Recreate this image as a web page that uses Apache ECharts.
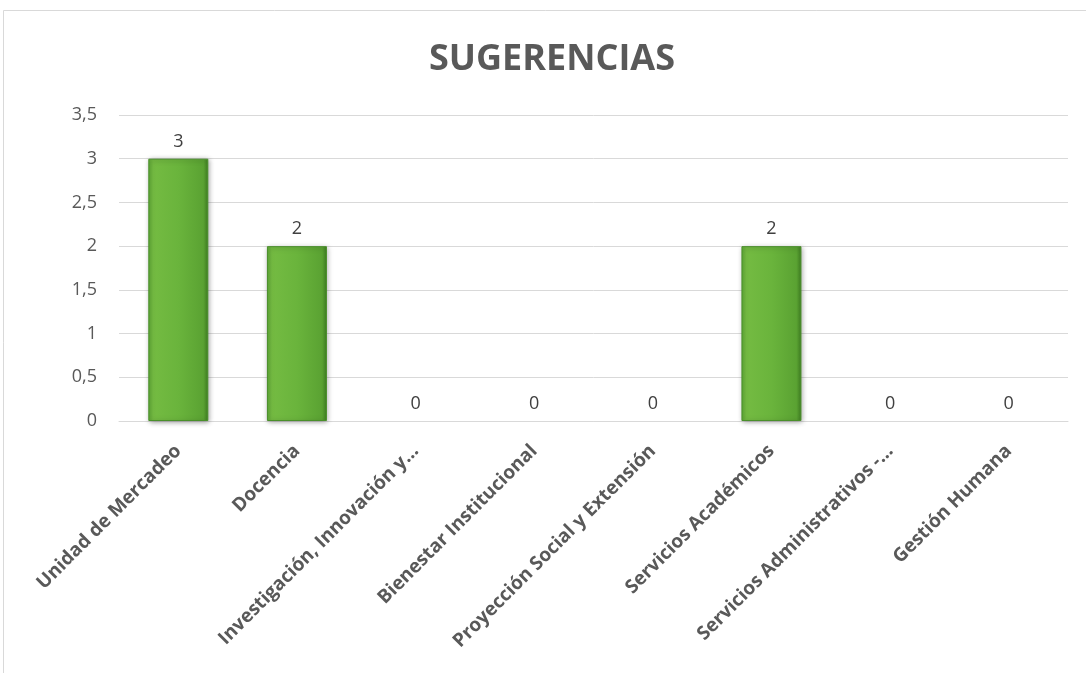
<!DOCTYPE html>
<html>
<head>
<meta charset="utf-8">
<script src="https://cdn.jsdelivr.net/npm/echarts@6/dist/echarts.min.js"></script>
<style>
  html, body { margin: 0; padding: 0; background: #fff; }
  #chart { width: 1086px; height: 673px; }
</style>
</head>
<body>
<div id="chart"></div>
<script>
// Suggestions by area
const categories = [
  'Unidad de Mercadeo',
  'Docencia',
  'Investigación, Innovación y…',
  'Bienestar Institucional',
  'Proyección Social y Extensión',
  'Servicios Académicos',
  'Servicios Administrativos -…',
  'Gestión Humana'
];
const values = [3, 2, 0, 0, 0, 2, 0, 0];
const yTicks = { min: 0, max: 3.5, interval: 0.5 };

const chart = echarts.init(document.getElementById('chart'), null, { renderer: 'canvas' });

const barFill = new echarts.graphic.LinearGradient(0, 0, 1, 0, [
  { offset: 0, color: '#5fa936' },
  { offset: 0.08, color: '#74bb42' },
  { offset: 0.5, color: '#6ab43c' },
  { offset: 0.92, color: '#5aa232' },
  { offset: 1, color: '#3f7f22' }
]);

// zero-height bars get no fill/outline so nothing shows on the axis, labels stay
const barData = values.map(v => v === 0
  ? { value: v, itemStyle: { color: 'rgba(0,0,0,0)', borderWidth: 0, shadowBlur: 0, shadowOffsetX: 0, shadowOffsetY: 0 } }
  : v);

chart.setOption({
  backgroundColor: '#ffffff',
  animation: false,
  graphic: [{
    type: 'rect',
    shape: { x: 3.5, y: 10.5, width: 1100, height: 700 },
    style: { fill: 'none', stroke: '#d9d9d9', lineWidth: 1 },
    silent: true,
    z: -1
  }],
  title: {
    text: 'SUGERENCIAS',
    left: 424,
    top: 37,
    textStyle: {
      fontFamily: 'Open Sans',
      fontWeight: 'bold',
      fontSize: 36,
      color: '#595959'
    }
  },
  grid: { left: 119, right: 18, top: 115, bottom: 252 },
  xAxis: {
    type: 'category',
    data: categories,
    axisLine: { lineStyle: { color: '#d9d9d9', width: 1 } },
    axisTick: { show: false },
    axisLabel: {
      rotate: 45,
      interval: 0,
      margin: 27,
      fontFamily: 'Open Sans',
      fontWeight: 'bold',
      fontSize: 19,
      color: '#595959'
    }
  },
  yAxis: {
    type: 'value',
    min: yTicks.min,
    max: yTicks.max,
    interval: yTicks.interval,
    axisLine: { show: false },
    axisTick: { show: false },
    splitLine: { lineStyle: { color: '#d9d9d9', width: 1 } },
    axisLabel: {
      margin: 22,
      fontFamily: 'Open Sans',
      fontSize: 18,
      color: '#595959',
      formatter: v => String(v).replace('.', ',')
    }
  },
  series: [{
    type: 'bar',
    data: barData,
    barWidth: 60,
    itemStyle: {
      color: barFill,
      borderColor: '#4a8f2a',
      borderWidth: 1,
      shadowColor: 'rgba(0,0,0,0.35)',
      shadowBlur: 5,
      shadowOffsetX: 1,
      shadowOffsetY: 1
    },
    label: {
      show: true,
      position: 'top',
      distance: 8,
      fontFamily: 'Open Sans',
      fontSize: 18,
      color: '#404040'
    }
  }]
});
</script>
</body>
</html>
